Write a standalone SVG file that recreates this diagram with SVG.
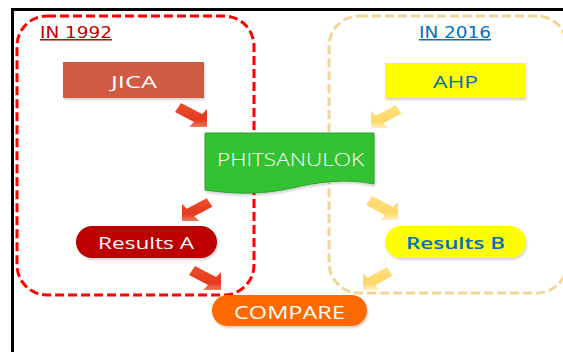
<svg xmlns="http://www.w3.org/2000/svg" xmlns:xlink="http://www.w3.org/1999/xlink" width="563" height="352" viewBox="0 0 563 352">
<style>
.t{font-family:"Open Sans","DejaVu Sans",sans-serif;text-anchor:middle}
.w{fill:#ffffff}
.b{fill:#0070C0}
.hdr{font-family:"DejaVu Sans","Liberation Sans",sans-serif;font-size:15px;text-decoration:underline}
.frame{fill:none;stroke-width:3;stroke-dasharray:9 4}
</style>
<defs>
<linearGradient id="gRed" x1="0" y1="0" x2="0" y2="1">
<stop offset="0" stop-color="#F04E2C"/>
<stop offset="0.7" stop-color="#E23A20"/>
<stop offset="1" stop-color="#F27A5E"/>
</linearGradient>
<linearGradient id="gYel" x1="0" y1="0" x2="0" y2="1">
<stop offset="0" stop-color="#FFE080"/>
<stop offset="0.7" stop-color="#FFD866"/>
<stop offset="1" stop-color="#FFF0C0"/>
</linearGradient>
<path id="arr" d="M-26,-24 L-5,-13 L0,-18 L0,0 L-18,0 L-13,-5 L-32,-15 Z"/>
<filter id="sh" x="-10%" y="-10%" width="120%" height="140%">
<feDropShadow dx="1" dy="2" stdDeviation="1.2" flood-color="#000" flood-opacity="0.18"/>
</filter>
</defs>
<rect width="563" height="352" fill="#ffffff"/>
<g id="border">
<line x1="11" y1="9.5" x2="563" y2="9.5" stroke="#000" stroke-width="3"/>
<line x1="12.5" y1="8" x2="12.5" y2="352" stroke="#000" stroke-width="3"/>
</g>
<g id="group-1992">
<rect class="frame" x="17" y="16" width="237" height="279" rx="30" ry="30" stroke="#FF0000"/>
<text class="hdr" x="40" y="38" fill="#C00000" textLength="72" lengthAdjust="spacingAndGlyphs">IN 1992</text>
</g>
<g id="group-2016">
<rect class="frame" x="329" y="16" width="238" height="277" rx="30" ry="30" stroke="#F2D597"/>
<text class="hdr" x="419" y="38" fill="#0070C0" textLength="72" lengthAdjust="spacingAndGlyphs">IN 2016</text>
</g>
<g id="connectors">
<use xlink:href="#arr" fill="url(#gRed)" transform="translate(207,127)"/>
<use xlink:href="#arr" fill="url(#gRed)" transform="translate(182,221) scale(-0.95,0.95)"/>
<use xlink:href="#arr" fill="url(#gRed)" transform="translate(221,290)"/>
<use xlink:href="#arr" fill="url(#gYel)" transform="translate(371,128) scale(-0.95,0.95)"/>
<use xlink:href="#arr" fill="url(#gYel)" transform="translate(398,220)"/>
<use xlink:href="#arr" fill="url(#gYel)" transform="translate(363,290) scale(-0.92,0.95)"/>
</g>
<g id="jica">
<rect x="63" y="62" width="141" height="36" fill="#D05A43" filter="url(#sh)"/>
<text class="t w" x="134" y="88" font-size="17" textLength="46" lengthAdjust="spacingAndGlyphs">JICA</text>
</g>
<g id="ahp">
<rect x="385" y="63" width="140" height="35" fill="#FFFF00" filter="url(#sh)"/>
<text class="t b" x="455.5" y="88" font-size="17" textLength="45" lengthAdjust="spacingAndGlyphs">AHP</text>
</g>
<g id="phitsanulok">
<path d="M205,133 H374 V184 C345,178 318,182 292,188 C262,195 232,194 205,190 Z" fill="#32C232" stroke="#28A428" stroke-width="1" filter="url(#sh)"/>
<text class="t w" x="290.5" y="166" font-size="18" font-weight="300" textLength="147" lengthAdjust="spacingAndGlyphs">PHITSANULOK</text>
</g>
<g id="results-a">
<rect x="76" y="226" width="141" height="32" rx="16" ry="16" fill="#BE0000" filter="url(#sh)"/>
<text class="t w" x="146" y="249" font-size="17" textLength="96" lengthAdjust="spacingAndGlyphs">Results A</text>
</g>
<g id="results-b">
<rect x="385" y="226" width="141" height="32" rx="16" ry="16" fill="#FFFF00" filter="url(#sh)"/>
<text class="t b" x="455.5" y="249" font-size="17" font-weight="600" textLength="99" lengthAdjust="spacingAndGlyphs">Results B</text>
</g>
<g id="compare">
<rect x="212" y="295" width="155" height="31" rx="15.5" ry="15.5" fill="#FF6A00" filter="url(#sh)"/>
<text class="t w" x="289.5" y="319" font-size="18" textLength="111" lengthAdjust="spacingAndGlyphs">COMPARE</text>
</g>
</svg>
